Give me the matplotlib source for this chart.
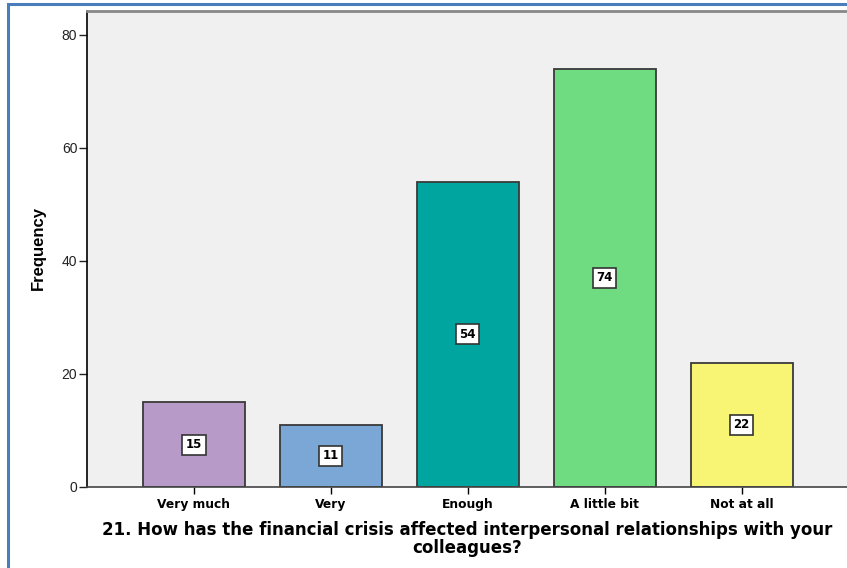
import matplotlib.pyplot as plt
from matplotlib.patches import Rectangle

# Answer categories and their frequencies
categories = ['Very much', 'Very', 'Enough', 'A little bit', 'Not at all']
frequencies = [15, 11, 54, 74, 22]
bar_colors = ['#b89ac8', '#7aa7d6', '#00a59f', '#6fdc82', '#f8f574']

plt.rcParams['font.family'] = ['Liberation Sans', 'DejaVu Sans']

fig = plt.figure(figsize=(8.47, 5.68), dpi=100)
ax = fig.add_axes([87 / 847, 81 / 568, 1 - 87 / 847, 476 / 568])
ax.set_facecolor('#f0f0f0')

x = range(len(categories))
ax.bar(x, frequencies, width=0.745, color=bar_colors, edgecolor='#3a3a3a', linewidth=1.3, zorder=2)

# Value labels in little white boxes at half height
for i, v in enumerate(frequencies):
    ax.text(i, v / 2, str(v), ha='center', va='center', fontsize=8.5, fontweight='bold',
            family='DejaVu Sans',
            bbox=dict(boxstyle='square,pad=0.3', facecolor='white', edgecolor='#333333', linewidth=1.2),
            zorder=3)

ax.set_xlim(-0.78, 4.77)
ax.set_ylim(0, 84.2)
ax.set_yticks([0, 20, 40, 60, 80])
ax.set_xticks(list(x))
ax.set_xticklabels(categories, fontsize=8.8, fontweight='bold', family='DejaVu Sans')
ax.tick_params(axis='y', labelsize=10, length=6, width=1, colors='#222222', pad=1)
ax.tick_params(axis='x', length=5, width=1, pad=3)

ax.spines['right'].set_visible(False)
ax.spines['left'].set_color('black')
ax.spines['left'].set_linewidth(1.2)
ax.spines['bottom'].set_color('#444444')
ax.spines['bottom'].set_linewidth(1.2)
ax.spines['top'].set_color('#888888')
ax.spines['top'].set_linewidth(2)

fig.text(38 / 847, 1 - 248 / 568, 'Frequency', rotation=90, ha='center', va='center',
         fontsize=12, fontweight='bold')
fig.text(467 / 847, 1 - 539 / 568,
         '21. How has the financial crisis affected interpersonal relationships with your\ncolleagues?',
         ha='center', va='center', fontsize=12, fontweight='bold', linespacing=1.0,
         family='DejaVu Sans')

# Blue frame around the chart (cut off at right/bottom)
fig.patches.append(Rectangle((7.5 / 847, -0.1), 1.2, 1.1 - 4.5 / 568, transform=fig.transFigure,
                             fill=False, edgecolor='#4a7ebb', linewidth=2.2))

fig.savefig('out.png', dpi=100)
